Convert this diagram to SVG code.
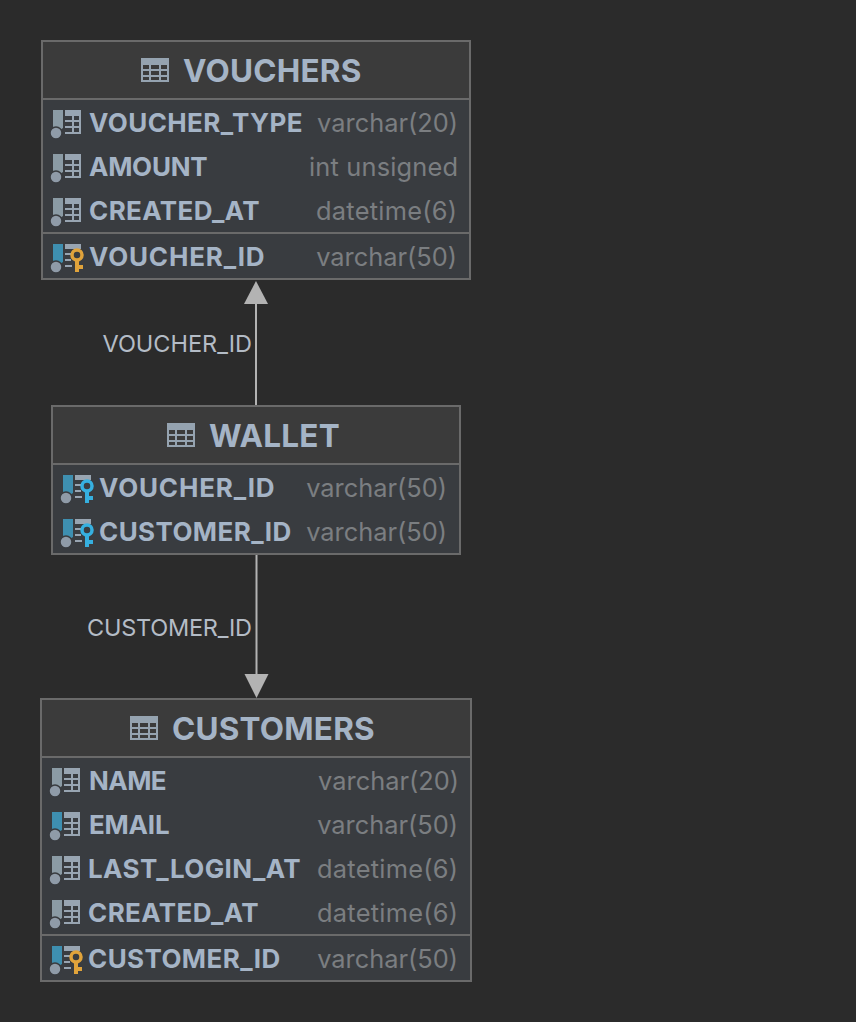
<svg xmlns="http://www.w3.org/2000/svg" width="856" height="1022" viewBox="0 0 856 1022">
<style>
.box{fill:#393c40;stroke:#6a6a6a;stroke-width:2}
.head{fill:#3b3b3b}
.sep{stroke:#6a6a6a;stroke-width:2;fill:none}
text{font-family:Inter,"Liberation Sans",sans-serif}
.title{font-size:31.500px;font-weight:700;fill:#a5b4c6;letter-spacing:.2px}
.col{font-size:26px;font-weight:700;fill:#a5b4c6;letter-spacing:.4px}
.type{font-size:25.400px;font-weight:400;fill:#7b7e81}
.lbl{font-size:23.500px;font-weight:400;fill:#b4bcc6}
.conn{stroke:#b3b3b3;stroke-width:2;fill:none}
.head-a{fill:#b3b3b3}
.dot{fill:#8f9ba8;stroke:#393c40;stroke-width:1.500}
.grid{fill:#98a5b2}
</style>
<defs>
<path id="tbl" fill="#95a3b0" fill-rule="evenodd" d="M0 0H28V24H0ZM2 7V11H8V7ZM10 7V11H18V7ZM20 7V11H26V7ZM2 13V17H8V13ZM10 13V17H18V13ZM20 13V17H26V13ZM2 19V22H8V19ZM10 19V22H18V19ZM20 19V22H26V19Z"/>
<g id="colgrey"><path fill="#8b9ba5" d="M1 0H11V18L8 20H1Z"/><circle class="dot" cx="4" cy="23" r="6"/><path class="grid" d="M13 0H29V6H13ZM13 10H29V12H13ZM13 16H29V18H13ZM13 22H29V24H13ZM20 6H22V24H20ZM27 6H29V24H27Z"/></g>
<g id="colblue"><path fill="#3e8fb0" d="M1 0H11V18L8 20H1Z"/><circle class="dot" cx="4" cy="23" r="6"/><path class="grid" d="M13 0H29V6H13ZM13 10H29V12H13ZM13 16H29V18H13ZM13 22H29V24H13ZM20 6H22V24H20ZM27 6H29V24H27Z"/></g>
<g id="pk"><path fill="#3e8fb0" d="M1 0H11V18L8 20H1Z"/><circle class="dot" cx="4" cy="23" r="6"/><path class="grid" d="M13 0H29V5H13ZM13 9H20V11H13ZM13 15H19V17H13ZM13 21H20V23H13Z"/><circle cx="25" cy="11" r="5" fill="none" stroke="#e0a33b" stroke-width="3.500"/><path fill="#e0a33b" d="M23 15H27V21H31V25H27V28H23Z"/></g>
<g id="fk"><path fill="#3e8fb0" d="M1 0H11V18L8 20H1Z"/><circle class="dot" cx="4" cy="23" r="6"/><path class="grid" d="M13 0H29V5H13ZM13 9H20V11H13ZM13 15H19V17H13ZM13 21H20V23H13Z"/><circle cx="25" cy="11" r="5" fill="none" stroke="#36b0e0" stroke-width="3.500"/><path fill="#36b0e0" d="M23 15H27V21H31V25H27V28H23Z"/></g>
</defs>
<rect width="856" height="1022" fill="#2b2b2b"/>
<g id="connectors">
<path class="conn" d="M256 304V405"/>
<path class="head-a" d="M256 281L268 304H244Z"/>
<path class="conn" d="M256.500 555V674"/>
<path class="head-a" d="M256.500 698L244.500 674H268.500Z"/>
<text class="lbl" x="252" y="352" text-anchor="end">VOUCHER_ID</text>
<text class="lbl" x="252" y="636" text-anchor="end" textLength="165">CUSTOMER_ID</text>
</g>
<g id="vouchers">
<rect class="box" x="42" y="41" width="428" height="238"/>
<rect class="head" x="43" y="42" width="426" height="56"/>
<path class="sep" d="M42 99H470M42 233H470"/>
<use href="#tbl" x="141" y="58"/>
<text class="title" x="183" y="82">VOUCHERS</text>
<use href="#colgrey" x="52" y="110"/><text class="col" x="89" y="132">VOUCHER_TYPE</text><text class="type" x="458" y="132" text-anchor="end">varchar(20)</text>
<use href="#colgrey" x="52" y="154"/><text class="col" x="89" y="176" textLength="119">AMOUNT</text><text class="type" x="458" y="176" text-anchor="end" textLength="149">int unsigned</text>
<use href="#colgrey" x="52" y="198"/><text class="col" x="89" y="220">CREATED_AT</text><text class="type" x="457" y="220" text-anchor="end" textLength="141">datetime(6)</text>
<use href="#pk" x="52" y="244"/><text class="col" x="89" y="266" textLength="176">VOUCHER_ID</text><text class="type" x="457" y="266" text-anchor="end">varchar(50)</text>
</g>
<g id="wallet">
<rect class="box" x="52" y="406" width="408" height="148"/>
<rect class="head" x="53" y="407" width="406" height="56"/>
<path class="sep" d="M52 464H460"/>
<use href="#tbl" x="167" y="423"/>
<text class="title" x="209" y="447">WALLET</text>
<use href="#fk" x="62" y="475"/><text class="col" x="99" y="497" textLength="176">VOUCHER_ID</text><text class="type" x="447" y="497" text-anchor="end">varchar(50)</text>
<use href="#fk" x="62" y="519"/><text class="col" x="99" y="541">CUSTOMER_ID</text><text class="type" x="447" y="541" text-anchor="end">varchar(50)</text>
</g>
<g id="customers">
<rect class="box" x="41" y="699" width="430" height="282"/>
<rect class="head" x="42" y="700" width="428" height="56"/>
<path class="sep" d="M41 757H471M41 935H471"/>
<use href="#tbl" x="130" y="716"/>
<text class="title" x="172" y="740">CUSTOMERS</text>
<use href="#colgrey" x="51" y="768"/><text class="col" x="89" y="790" textLength="78">NAME</text><text class="type" x="459" y="790" text-anchor="end">varchar(20)</text>
<use href="#colblue" x="51" y="812"/><text class="col" x="89" y="834" textLength="81">EMAIL</text><text class="type" x="458" y="834" text-anchor="end">varchar(50)</text>
<use href="#colgrey" x="51" y="856"/><text class="col" x="88" y="878">LAST_LOGIN_AT</text><text class="type" x="458" y="878" text-anchor="end" textLength="141">datetime(6)</text>
<use href="#colgrey" x="51" y="900"/><text class="col" x="88" y="922">CREATED_AT</text><text class="type" x="458" y="922" text-anchor="end" textLength="141">datetime(6)</text>
<use href="#pk" x="51" y="946"/><text class="col" x="88" y="968">CUSTOMER_ID</text><text class="type" x="458" y="968" text-anchor="end">varchar(50)</text>
</g>
</svg>
